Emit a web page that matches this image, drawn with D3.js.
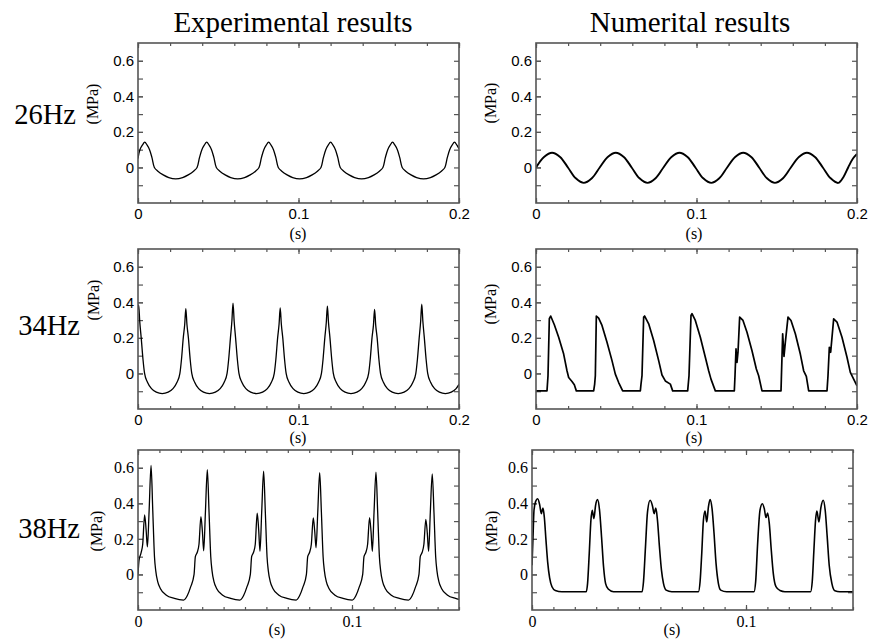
<!DOCTYPE html>
<html>
<head>
<meta charset="utf-8">
<script src="https://cdn.jsdelivr.net/npm/d3@7"></script>
<style>
  body { margin: 0; background: #fff; }
  text { fill: #000; }
</style>
</head>
<body>
<svg id="chart" width="873" height="641"></svg>
<script>
// pressure traces, [time (s), pressure (MPa)]
var exp26 = [[0,0.05],[0.0012,0.100],[0.0027,0.125],[0.0042,0.142],[0.0057,0.125],[0.0072,0.100],[0.0087,0.055],[0.0102,0.000],[0.0122,-0.020],[0.0157,-0.042],[0.0192,-0.057],[0.0235,-0.064],
  [0.0278,-0.057],[0.0313,-0.042],[0.0348,-0.020],[0.0368,0.000],[0.0383,0.055],[0.0398,0.100],[0.0413,0.125],[0.0428,0.142],[0.0443,0.125],[0.0458,0.100],[0.0473,0.055],[0.0488,0.000],[0.0508,-0.020],[0.0543,-0.042],[0.0578,-0.057],[0.0621,-0.064],
  [0.0664,-0.057],[0.0699,-0.042],[0.0734,-0.020],[0.0754,0.000],[0.0769,0.055],[0.0784,0.100],[0.0799,0.125],[0.0814,0.142],[0.0829,0.125],[0.0844,0.100],[0.0859,0.055],[0.0874,0.000],[0.0894,-0.020],[0.0929,-0.042],[0.0964,-0.057],[0.1007,-0.064],
  [0.1050,-0.057],[0.1085,-0.042],[0.1120,-0.020],[0.1140,0.000],[0.1155,0.055],[0.1170,0.100],[0.1185,0.125],[0.1200,0.142],[0.1215,0.125],[0.1230,0.100],[0.1245,0.055],[0.1260,0.000],[0.1280,-0.020],[0.1315,-0.042],[0.1350,-0.057],[0.1393,-0.064],
  [0.1436,-0.057],[0.1471,-0.042],[0.1506,-0.020],[0.1526,0.000],[0.1541,0.055],[0.1556,0.100],[0.1571,0.125],[0.1586,0.142],[0.1601,0.125],[0.1616,0.100],[0.1631,0.055],[0.1646,0.000],[0.1666,-0.020],[0.1701,-0.042],[0.1736,-0.057],[0.1779,-0.064],
  [0.1822,-0.057],[0.1857,-0.042],[0.1892,-0.020],[0.1912,0.000],[0.1927,0.055],[0.1942,0.100],[0.1957,0.125],[0.1972,0.142],[0.1987,0.125],[0.2000,0.105]];

var num26 = [[0,0.0],[0.0050,0.059],[0.0100,0.083],[0.0150,0.059],[0.0199,0.0],[0.0248,-0.061],[0.0298,-0.087],[0.0348,-0.061],
  [0.0397,0.0],[0.0447,0.059],[0.0497,0.083],[0.0547,0.059],[0.0596,0.0],[0.0645,-0.061],[0.0695,-0.087],[0.0745,-0.061],
  [0.0794,0.0],[0.0844,0.059],[0.0894,0.083],[0.0944,0.059],[0.0993,0.0],[0.1042,-0.061],[0.1092,-0.087],[0.1142,-0.061],
  [0.1191,0.0],[0.1241,0.059],[0.1291,0.083],[0.1341,0.059],[0.1390,0.0],[0.1439,-0.061],[0.1489,-0.087],[0.1539,-0.061],
  [0.1588,0.0],[0.1638,0.059],[0.1688,0.083],[0.1738,0.059],[0.1787,0.0],[0.1836,-0.061],[0.1883,-0.087],[0.1915,-0.055],
  [0.1945,0.0],[0.1975,0.050],[0.2000,0.076]];

var exp34 = [[0,0.36],[0.0004,0.385],[0.0011,0.29],[0.0020,0.200],[0.0031,0.080],[0.0041,0.000],[0.0059,-0.050],[0.0084,-0.085],[0.0114,-0.105],[0.0151,-0.113],
  [0.0188,-0.105],[0.0218,-0.085],[0.0243,-0.050],[0.0261,0.000],[0.0271,0.080],[0.0282,0.200],[0.0291,0.275],[0.0298,0.364],[0.0305,0.275],[0.0314,0.200],[0.0325,0.080],[0.0335,0.000],[0.0353,-0.050],[0.0378,-0.085],[0.0408,-0.105],[0.0445,-0.113],
  [0.0482,-0.105],[0.0512,-0.085],[0.0537,-0.050],[0.0555,0.000],[0.0565,0.080],[0.0576,0.200],[0.0585,0.295],[0.0592,0.396],[0.0599,0.295],[0.0608,0.200],[0.0619,0.080],[0.0629,0.000],[0.0647,-0.050],[0.0672,-0.085],[0.0702,-0.105],[0.0739,-0.113],
  [0.0776,-0.105],[0.0806,-0.085],[0.0831,-0.050],[0.0849,0.000],[0.0859,0.080],[0.0870,0.200],[0.0879,0.278],[0.0886,0.368],[0.0893,0.278],[0.0902,0.200],[0.0913,0.080],[0.0923,0.000],[0.0941,-0.050],[0.0966,-0.085],[0.0996,-0.105],[0.1033,-0.113],
  [0.1070,-0.105],[0.1100,-0.085],[0.1125,-0.050],[0.1143,0.000],[0.1153,0.080],[0.1164,0.200],[0.1173,0.285],[0.1180,0.379],[0.1187,0.285],[0.1196,0.200],[0.1207,0.080],[0.1217,0.000],[0.1235,-0.050],[0.1260,-0.085],[0.1290,-0.105],[0.1327,-0.113],
  [0.1364,-0.105],[0.1394,-0.085],[0.1419,-0.050],[0.1437,0.000],[0.1447,0.080],[0.1458,0.200],[0.1467,0.272],[0.1474,0.360],[0.1481,0.272],[0.1490,0.200],[0.1501,0.080],[0.1511,0.000],[0.1529,-0.050],[0.1554,-0.085],[0.1584,-0.105],[0.1621,-0.113],
  [0.1658,-0.105],[0.1688,-0.085],[0.1713,-0.050],[0.1731,0.000],[0.1741,0.080],[0.1752,0.200],[0.1761,0.292],[0.1768,0.390],[0.1775,0.292],[0.1784,0.200],[0.1795,0.080],[0.1805,0.000],[0.1823,-0.050],[0.1848,-0.085],[0.1878,-0.105],[0.1915,-0.113],
  [0.1952,-0.105],[0.1982,-0.085],[0.2000,-0.062]];

var num34 = [[0,-0.098],[0.00685,-0.098],[0.00748,-0.013],[0.00831,0.308],[0.00914,0.323],[0.01142,0.274],[0.01412,0.204],[0.01724,0.109],[0.01931,0.015],[0.02035,-0.023],[0.02243,-0.045],[0.02388,-0.064],[0.02513,-0.098],
  [0.03593,-0.098],[0.03655,-0.060],[0.03697,-0.013],[0.03759,0.323],[0.03904,0.311],[0.04112,0.270],[0.04424,0.175],[0.04735,0.072],[0.04943,-0.004],[0.05151,-0.051],[0.05400,-0.098],
  [0.06501,-0.098],[0.06542,-0.060],[0.06604,-0.013],[0.06708,0.317],[0.06770,0.323],[0.07020,0.279],[0.07331,0.185],[0.07643,0.072],[0.07850,-0.009],[0.08058,-0.042],[0.08370,-0.060],[0.08515,-0.098],
  [0.09450,-0.098],[0.09533,-0.013],[0.09657,0.326],[0.09720,0.336],[0.09927,0.298],[0.10239,0.204],[0.10550,0.091],[0.10758,0.015],[0.10903,-0.032],[0.11173,-0.098],
  [0.12357,-0.098],[0.12399,-0.013],[0.12461,0.138],[0.12523,0.062],[0.12586,0.119],[0.12689,0.317],[0.12897,0.298],[0.13146,0.232],[0.13458,0.128],[0.13728,0.025],[0.13873,-0.013],[0.14081,-0.098],
  [0.15265,-0.098],[0.15286,-0.032],[0.15369,0.223],[0.15452,0.096],[0.15535,0.175],[0.15701,0.317],[0.15888,0.298],[0.16158,0.223],[0.16469,0.109],[0.16677,0.015],[0.16843,-0.017],[0.16989,-0.098],
  [0.18131,-0.098],[0.18193,-0.013],[0.18276,0.147],[0.18359,0.119],[0.18546,0.307],[0.18754,0.289],[0.19065,0.204],[0.19377,0.091],[0.19585,0.006],[0.19792,-0.032],[0.2000,-0.070]];

var exp38 = [[0,0.0],[0.0005,0.080],[0.0014,0.120],[0.0022,0.170],[0.0031,0.335],[0.0038,0.250],[0.0044,0.155],[0.0052,0.360],[0.0061,0.613],[0.0069,0.360],[0.0077,0.100],[0.0083,0.020],[0.0092,-0.040],[0.0105,-0.080],[0.0131,-0.115],[0.0170,-0.135],[0.0213,-0.144],
  [0.0230,-0.120],[0.0246,-0.070],[0.0262,0.000],[0.0268,0.100],[0.0277,0.125],[0.0285,0.170],[0.0294,0.325],[0.0301,0.240],[0.0307,0.133],[0.0315,0.350],[0.0324,0.589],[0.0332,0.350],[0.0340,0.100],[0.0346,0.020],[0.0355,-0.040],[0.0368,-0.080],[0.0394,-0.115],[0.0433,-0.135],[0.0476,-0.144],
  [0.0493,-0.120],[0.0509,-0.070],[0.0525,0.000],[0.0531,0.100],[0.0540,0.125],[0.0548,0.170],[0.0557,0.345],[0.0564,0.250],[0.0570,0.130],[0.0578,0.350],[0.0587,0.581],[0.0595,0.350],[0.0603,0.100],[0.0609,0.020],[0.0618,-0.040],[0.0631,-0.080],[0.0657,-0.115],[0.0696,-0.135],[0.0739,-0.144],
  [0.0755,-0.120],[0.0771,-0.070],[0.0787,0.000],[0.0793,0.100],[0.0802,0.125],[0.0810,0.170],[0.0819,0.318],[0.0826,0.240],[0.0832,0.150],[0.0840,0.350],[0.0849,0.572],[0.0857,0.350],[0.0865,0.100],[0.0871,0.020],[0.0880,-0.040],[0.0893,-0.080],[0.0919,-0.115],[0.0958,-0.135],[0.1001,-0.144],
  [0.1018,-0.120],[0.1034,-0.070],[0.1050,0.000],[0.1056,0.100],[0.1065,0.125],[0.1073,0.170],[0.1082,0.320],[0.1089,0.240],[0.1095,0.130],[0.1103,0.350],[0.1112,0.576],[0.1120,0.350],[0.1128,0.100],[0.1134,0.020],[0.1143,-0.040],[0.1156,-0.080],[0.1182,-0.115],[0.1221,-0.135],[0.1264,-0.144],
  [0.1281,-0.120],[0.1297,-0.070],[0.1313,0.000],[0.1319,0.100],[0.1328,0.125],[0.1336,0.170],[0.1345,0.310],[0.1352,0.230],[0.1358,0.130],[0.1366,0.350],[0.1375,0.566],[0.1383,0.350],[0.1391,0.100],[0.1397,0.020],[0.1406,-0.040],[0.1419,-0.080],[0.1445,-0.115],[0.1484,-0.135],[0.1500,-0.140]];

var num38 = [[0,0.052],[0.00047,0.211],[0.00093,0.361],[0.00171,0.411],[0.00264,0.426],[0.00358,0.393],[0.00435,0.342],[0.00513,0.374],[0.00575,0.323],[0.00653,0.193],[0.00731,0.071],[0.00824,-0.019],[0.00933,-0.069],[0.01089,-0.090],[0.01400,-0.097],
  [0.02535,-0.097],[0.02597,-0.050],[0.02675,0.118],[0.02753,0.305],[0.02815,0.361],[0.02893,0.314],[0.02971,0.389],[0.03064,0.421],[0.03157,0.361],[0.03250,0.211],[0.03344,0.043],[0.03437,-0.050],[0.03561,-0.082],[0.03810,-0.097],
  [0.05148,-0.097],[0.05210,-0.041],[0.05303,0.155],[0.05397,0.351],[0.05521,0.417],[0.05630,0.385],[0.05708,0.342],[0.05785,0.374],[0.05863,0.305],[0.05956,0.155],[0.06050,0.024],[0.06143,-0.050],[0.06267,-0.088],[0.06532,-0.097],
  [0.07776,-0.097],[0.07854,-0.041],[0.07932,0.118],[0.08010,0.305],[0.08087,0.357],[0.08165,0.295],[0.08243,0.379],[0.08320,0.421],[0.08414,0.370],[0.08507,0.230],[0.08600,0.062],[0.08709,-0.050],[0.08818,-0.088],[0.09098,-0.097],
  [0.10373,-0.097],[0.10451,-0.041],[0.10544,0.174],[0.10653,0.361],[0.10762,0.398],[0.10855,0.370],[0.10933,0.320],[0.11011,0.346],[0.11089,0.286],[0.11182,0.136],[0.11275,0.006],[0.11400,-0.069],[0.11586,-0.090],[0.11820,-0.097],
  [0.13017,-0.097],[0.13095,-0.041],[0.13173,0.136],[0.13250,0.305],[0.13313,0.357],[0.13406,0.295],[0.13499,0.376],[0.13608,0.417],[0.13701,0.361],[0.13795,0.211],[0.13888,0.052],[0.14012,-0.050],[0.14152,-0.092],[0.14386,-0.097],[0.1500,-0.097]];

// labels
var columnTitles = ["Experimental results", "Numerital results"];
var rowLabels = ["26Hz", "34Hz", "38Hz"];
var yTickLabels = [0, 0.2, 0.4, 0.6];
var xTickLabelsLong = [0, 0.1, 0.2];
var xTickLabelsShort = [0, 0.1];

var svg = d3.select("#chart");
var W = 321, H = 160;
var frameColor = "#555";

var panels = [
  {data: exp26, left: 138, top: 43,  xmax: 0.2,  step: 0.02, labels: xTickLabelsLong,  serif: false, curve: d3.curveCatmullRom, sw: 1.3, mpa: [92, 104],  s: [298, 239]},
  {data: num26, left: 536, top: 43,  xmax: 0.2,  step: 0.02, labels: xTickLabelsLong,  serif: false, curve: d3.curveCatmullRom, sw: 1.9, mpa: [490, 103], s: [694, 239]},
  {data: exp34, left: 138, top: 249, xmax: 0.2,  step: 0.02, labels: xTickLabelsLong,  serif: false, curve: d3.curveMonotoneX, sw: 1.3, mpa: [93, 300],  s: [298, 443]},
  {data: num34, left: 536, top: 249, xmax: 0.2,  step: 0.02, labels: xTickLabelsLong,  serif: false, curve: d3.curveLinear,    sw: 1.7, mpa: [490, 304], s: [694, 443]},
  {data: exp38, left: 138, top: 450, xmax: 0.15, step: 0.01, labels: xTickLabelsShort, serif: true,  curve: d3.curveMonotoneX, sw: 1.3, mpa: [96, 531],  s: [277, 635]},
  {data: num38, left: 532, top: 450, xmax: 0.15, step: 0.01, labels: xTickLabelsShort, serif: true,  curve: d3.curveMonotoneX, sw: 1.6, mpa: [491, 531], s: [672, 635]}
];

var serifFont = "'Liberation Serif', 'Times New Roman', serif";
var sansFont = "'Liberation Sans', Arial, sans-serif";

function fmt(d) { return d === 0 ? "0" : String(d); }

function styleAxis(a) {
  a.select(".domain").remove();
  a.selectAll(".tick line").attr("stroke", frameColor).attr("stroke-width", 1.2);
}

panels.forEach(function(p, i) {
  var g = svg.append("g").attr("transform", "translate(" + p.left + "," + p.top + ")");
  var x = d3.scaleLinear().domain([0, p.xmax]).range([0, W]);
  var y = d3.scaleLinear().domain([-0.2, 0.7]).range([H, 0]);
  var font = p.serif ? serifFont : sansFont;
  var fs = p.serif ? 16 : 15;

  var minorX = d3.range(0, p.xmax + 1e-9, p.step);
  var minorY = d3.range(-0.1, 0.65, 0.1);

  // minor ticks, all four sides, pointing in
  styleAxis(g.append("g").attr("transform", "translate(0," + H + ")")
    .call(d3.axisBottom(x).tickValues(minorX).tickSizeInner(-3).tickSizeOuter(0).tickFormat("")));
  styleAxis(g.append("g")
    .call(d3.axisTop(x).tickValues(minorX).tickSizeInner(-3).tickSizeOuter(0).tickFormat("")));
  styleAxis(g.append("g")
    .call(d3.axisLeft(y).tickValues(minorY).tickSizeInner(-5).tickSizeOuter(0).tickFormat("")));
  styleAxis(g.append("g").attr("transform", "translate(" + W + ",0)")
    .call(d3.axisRight(y).tickValues(minorY).tickSizeInner(-5).tickSizeOuter(0).tickFormat("")));

  // labelled ticks
  var bx = g.append("g").attr("transform", "translate(0," + H + ")")
    .call(d3.axisBottom(x).tickValues(p.labels).tickSizeInner(-5).tickSizeOuter(0)
      .tickPadding(p.serif ? 6 : 5.5).tickFormat(fmt));
  styleAxis(bx);
  styleAxis(g.append("g")
    .call(d3.axisTop(x).tickValues(p.labels).tickSizeInner(-5).tickSizeOuter(0).tickFormat("")));
  var ly = g.append("g")
    .call(d3.axisLeft(y).tickValues(yTickLabels).tickSizeInner(-5).tickSizeOuter(0)
      .tickPadding(4).tickFormat(fmt));
  styleAxis(ly);
  [bx, ly].forEach(function(a) {
    a.selectAll("text").style("font-family", font).style("font-size", fs + "px").attr("fill", "#000");
  });

  // trace
  var clipId = "clip" + i;
  g.append("clipPath").attr("id", clipId).append("rect").attr("width", W).attr("height", H);
  var line = d3.line()
    .x(function(d) { return x(d[0]); })
    .y(function(d) { return y(d[1]); })
    .curve(p.curve);
  g.append("path")
    .datum(p.data)
    .attr("clip-path", "url(#" + clipId + ")")
    .attr("fill", "none")
    .attr("stroke", "#000")
    .attr("stroke-width", p.sw)
    .attr("stroke-linejoin", "round")
    .attr("d", line);

  // frame
  g.append("rect")
    .attr("width", W).attr("height", H)
    .attr("fill", "none")
    .attr("stroke", frameColor)
    .attr("stroke-width", 1.6);

  // axis titles
  svg.append("text")
    .attr("transform", "translate(" + p.mpa[0] + "," + p.mpa[1] + ") rotate(-90)")
    .attr("text-anchor", "middle")
    .attr("dy", "0.35em")
    .style("font-family", serifFont)
    .style("font-size", "16px")
    .text("(MPa)");
  svg.append("text")
    .attr("x", p.s[0]).attr("y", p.s[1])
    .attr("text-anchor", "middle")
    .style("font-family", serifFont)
    .style("font-size", "16px")
    .text("(s)");
});

// column titles
svg.selectAll(".coltitle")
  .data(columnTitles)
  .enter().append("text")
  .attr("class", "coltitle")
  .attr("x", function(d, i) { return i === 0 ? 293 : 690; })
  .attr("y", 32)
  .attr("text-anchor", "middle")
  .style("font-family", serifFont)
  .style("font-size", "29px")
  .text(function(d) { return d; });

// row labels
var rowBase = [124, 335, 538];
var rowRight = [76, 80, 80];
svg.selectAll(".rowlabel")
  .data(rowLabels)
  .enter().append("text")
  .attr("class", "rowlabel")
  .attr("x", function(d, i) { return rowRight[i]; })
  .attr("y", function(d, i) { return rowBase[i]; })
  .attr("text-anchor", "end")
  .style("font-family", serifFont)
  .style("font-size", "28.5px")
  .text(function(d) { return d; });
</script>
</body>
</html>
